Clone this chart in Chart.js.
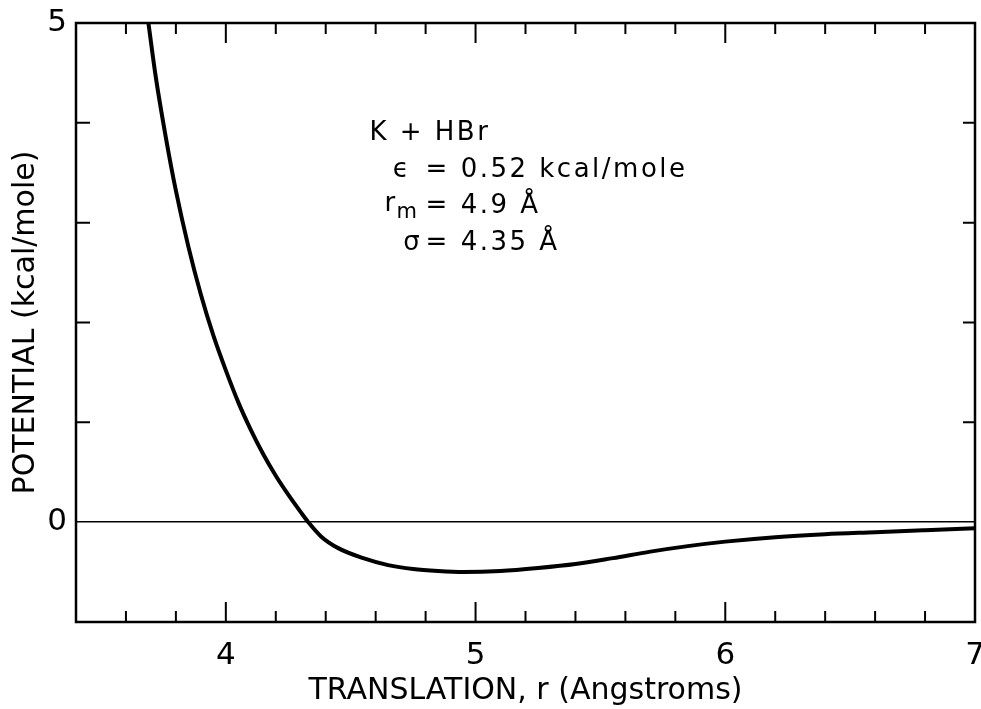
<!DOCTYPE html>
<html>
<head>
<meta charset="utf-8">
<script src="https://cdn.jsdelivr.net/npm/chart.js@4.4.0/dist/chart.umd.min.js"></script>
<style>
  html, body { margin: 0; padding: 0; background: #fff; }
</style>
</head>
<body>
<canvas id="myChart" width="981" height="709"></canvas>
<script>
// Distancia r (Angstroms)
const distancias = [3.69, 3.72, 3.76, 3.80, 3.85, 3.90, 3.95, 4.00, 4.05, 4.10, 4.15, 4.20, 4.25, 4.30, 4.33, 4.38, 4.45, 4.55, 4.65, 4.75, 4.85, 4.95, 5.10, 5.25, 5.40, 5.55, 5.70, 5.85, 6.00, 6.20, 6.40, 6.60, 6.80, 7.00];
// Potencial (kcal/mole)
const potencial = [5.0, 4.45, 3.85, 3.32, 2.76, 2.28, 1.87, 1.52, 1.20, 0.925, 0.68, 0.465, 0.275, 0.10, 0.0, -0.14, -0.26, -0.36, -0.43, -0.47, -0.49, -0.50, -0.49, -0.46, -0.42, -0.36, -0.295, -0.24, -0.195, -0.15, -0.12, -0.10, -0.08, -0.06];

// Marcas de los ejes
const ticksX = [4, 5, 6, 7];
const ticksXMenores = [3.6, 3.8, 4.2, 4.4, 4.6, 4.8, 5.2, 5.4, 5.6, 5.8, 6.2, 6.4, 6.6, 6.8];
const ticksY = [1, 2, 3, 4];
const etiquetasY = [0, 5];

const fuente = 'DejaVu Sans';

// Plugin para dibujar el marco, las marcas hacia adentro y el texto
const marcoYTexto = {
  id: 'marcoYTexto',
  afterDraw(chart) {
    const { ctx, chartArea: a, scales: { x, y } } = chart;
    ctx.save();
    ctx.strokeStyle = '#000';
    ctx.lineWidth = 2;
    ctx.beginPath();
    ticksXMenores.forEach(v => {
      const px = x.getPixelForValue(v);
      ctx.moveTo(px, a.bottom); ctx.lineTo(px, a.bottom - 11);
      ctx.moveTo(px, a.top); ctx.lineTo(px, a.top + 11);
    });
    ticksX.forEach(v => {
      const px = x.getPixelForValue(v);
      ctx.moveTo(px, a.bottom); ctx.lineTo(px, a.bottom - 20);
      ctx.moveTo(px, a.top); ctx.lineTo(px, a.top + 20);
    });
    ticksY.forEach(v => {
      const py = y.getPixelForValue(v);
      ctx.moveTo(a.left, py); ctx.lineTo(a.left + 14, py);
      ctx.moveTo(a.right, py); ctx.lineTo(a.right - 12, py);
    });
    ctx.stroke();
    ctx.lineWidth = 2.5;
    ctx.strokeRect(a.left, a.top, a.right - a.left, a.bottom - a.top);

    // Texto de la anotación
    ctx.fillStyle = '#000';
    ctx.textBaseline = 'middle';
    ctx.textAlign = 'left';
    ctx.letterSpacing = '2.5px';
    ctx.font = '26px ' + fuente;
    const xEq = x.getPixelForValue(4.80);
    ctx.fillText('K + HBr', x.getPixelForValue(4.575), y.getPixelForValue(3.9));
    ctx.fillText('\u03F5', x.getPixelForValue(4.668), y.getPixelForValue(3.53));
    ctx.fillText('= 0.52 kcal/mole', xEq, y.getPixelForValue(3.53));
    const xr = x.getPixelForValue(4.635);
    ctx.fillText('r', xr, y.getPixelForValue(3.18));
    const wr = ctx.measureText('r').width;
    ctx.font = '21px ' + fuente;
    ctx.fillText('m', xr + wr - 1, y.getPixelForValue(3.10));
    ctx.font = '26px ' + fuente;
    ctx.fillText('= 4.9 \u00C5', xEq, y.getPixelForValue(3.16));
    ctx.fillText('\u03C3', x.getPixelForValue(4.71), y.getPixelForValue(2.79));
    ctx.fillText('= 4.35 \u00C5', xEq, y.getPixelForValue(2.79));
    ctx.restore();
  }
};

const ctx = document.getElementById('myChart').getContext('2d');
window.chartInstance = new Chart(ctx, {
  type: 'line',
  data: {
    datasets: [{
      data: distancias.map((r, i) => ({ x: r, y: potencial[i] })),
      borderColor: '#000',
      borderWidth: 4,
      pointRadius: 0,
      cubicInterpolationMode: 'monotone',
      fill: false
    }]
  },
  options: {
    responsive: false,
    animation: false,
    layout: { padding: { top: 23, right: 6, left: 0, bottom: 0 } },
    plugins: { legend: { display: false }, tooltip: { enabled: false } },
    scales: {
      x: {
        type: 'linear',
        min: 3.4,
        max: 7,
        afterBuildTicks: s => { s.ticks = ticksX.map(v => ({ value: v })); },
        afterFit: s => { s.height = 87; s.paddingLeft = 0; s.paddingRight = 0; },
        grid: { display: false },
        border: { display: false },
        ticks: {
          autoSkip: false,
          maxRotation: 0,
          padding: 7,
          color: '#000',
          font: { family: fuente, size: 31 },
          callback: v => v.toString()
        },
        title: {
          display: true,
          text: 'TRANSLATION, r (Angstroms)',
          color: '#000',
          font: { family: fuente, size: 30 },
          padding: { top: 0, bottom: 0 }
        }
      },
      y: {
        min: -1,
        max: 5,
        afterBuildTicks: s => { s.ticks = etiquetasY.map(v => ({ value: v })); },
        afterFit: s => { s.width = 76; s.paddingTop = 0; s.paddingBottom = 0; },
        grid: {
          drawTicks: false,
          lineWidth: 1.5,
          color: c => (c.tick && c.tick.value === 0) ? '#000' : 'rgba(0,0,0,0)'
        },
        border: { display: false },
        ticks: {
          padding: 9,
          color: '#000',
          font: { family: fuente, size: 31 },
          callback: v => v.toString()
        },
        title: {
          display: true,
          text: 'POTENTIAL (kcal/mole)',
          color: '#000',
          font: { family: fuente, size: 30 },
          padding: { top: 8, bottom: 0 }
        }
      }
    }
  },
  plugins: [marcoYTexto]
});
</script>
</body>
</html>
